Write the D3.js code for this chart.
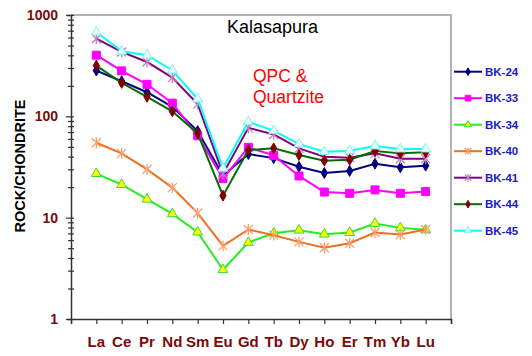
<!DOCTYPE html>
<html>
<head>
<meta charset="utf-8">
<script src="https://cdn.jsdelivr.net/npm/d3@7"></script>
<style>
  html, body { margin: 0; padding: 0; background: #fff; }
  svg { display: block; font-family: "Liberation Sans", Arial, sans-serif; }
</style>
</head>
<body>
<svg id="chart" width="532" height="356"></svg>
<script>
const elements = ["La","Ce","Pr","Nd","Sm","Eu","Gd","Tb","Dy","Ho","Er","Tm","Yb","Lu"];
const yTickLabels = ["1","10","100","1000"];
const seriesNames = ["BK-24","BK-33","BK-34","BK-40","BK-41","BK-44","BK-45"];

const bk24 = [283,222,173,124,71.5,26,42.4,38.7,31.8,27.6,28.9,34.1,31.4,32.6];
const bk33 = [401,281,207,135,64.3,24.3,49.4,41.2,25.8,17.9,17.4,18.8,17.4,18.1];
const bk34 = [27.2,21.2,15.2,10.9,7.19,3.06,5.69,7.03,7.52,6.87,7.13,8.75,7.93,7.58];
const bk40 = [54.9,43.1,30.0,19.8,11.1,5.27,7.64,6.72,5.77,5.04,5.60,7.13,6.82,7.64];
const bk41 = [584,432,344,241,132,27,77,66.3,48.3,40,39.1,43.1,38.2,38.2];
const bk44 = [317,214,156,112,67.8,16.5,46.5,48.3,41.5,36.5,37.3,45.4,43.1,44.1];
const bk45 = [679,438,401,285,148,30.7,88.3,72.1,53.2,44.8,45.8,50.9,47.5,47.5];

const seriesValues = [bk24, bk33, bk34, bk40, bk41, bk44, bk45];
const styles = [
  {line:"#000080", marker:"diamond", fill:"#000080", stroke:"#000080", size:34},
  {line:"#ff00ff", marker:"square", fill:"#ff00ff", stroke:"#ff00ff", size:64},
  {line:"#22ee22", marker:"triangle", fill:"#ffff00", stroke:"#33dd33", size:42},
  {line:"#f07020", marker:"asterisk", fill:"none", stroke:"#f8a070", size:4.5},
  {line:"#800080", marker:"asterisk", fill:"none", stroke:"#c080c0", size:4.5},
  {line:"#007000", marker:"diamond", fill:"#800000", stroke:"#800000", size:34},
  {line:"#00ffff", marker:"triangle", fill:"#e8ffff", stroke:"#80f0f0", size:42}
];

const svg = d3.select("#chart");
const L = 71, R = 451, T = 15, B = 319;

const x = d3.scaleLinear().domain([0, elements.length + 1]).range([L, R]);
const y = d3.scaleLog().domain([1, 1000]).range([B, T]);

// plot border (top and right)
svg.append("path")
  .attr("d", `M${L},${T}H${R}V${B}`)
  .attr("fill", "none").attr("stroke", "#999").attr("stroke-width", 1.5);

// Y axis with minor ticks
const yTickVals = [];
for (let d = 1; d < 1000; d *= 10) for (let k = 1; k < 10; k++) yTickVals.push(d * k);
yTickVals.push(1000);
const yAxis = d3.axisLeft(y).tickValues(yTickVals).tickSize(4).tickFormat("");
const gy = svg.append("g").attr("transform", `translate(${L},0)`).call(yAxis);
gy.select(".domain").attr("stroke", "#333").attr("stroke-width", 1.5);
gy.selectAll(".tick line").attr("stroke", "#333").attr("stroke-width", 1.2)
  .attr("x1", 3).attr("x2", d => (Math.log10(d) % 1 === 0 ? -5 : -3));

svg.append("g").selectAll("text").data(yTickLabels).join("text")
  .attr("x", 58).attr("y", d => y(+d)).attr("dy", "0.36em")
  .attr("text-anchor", "end").attr("font-weight", "bold").attr("font-size", 14)
  .attr("fill", "#7a0a0a").text(d => d);

// X axis
const xAxis = d3.axisBottom(x).tickValues(d3.range(0, elements.length + 2)).tickSize(5).tickFormat("");
const gx = svg.append("g").attr("transform", `translate(0,${B})`).call(xAxis);
gx.select(".domain").attr("stroke", "#333").attr("stroke-width", 1.5);
gx.selectAll(".tick line").attr("stroke", "#333").attr("stroke-width", 1.2);

svg.append("g").selectAll("text").data(elements).join("text")
  .attr("x", (d, i) => x(i + 1)).attr("y", 347)
  .attr("text-anchor", "middle").attr("font-weight", "bold").attr("font-size", 15)
  .attr("fill", "#7a0a0a").text(d => d);

// Y label
svg.append("text")
  .attr("transform", "translate(25,166) rotate(-90)")
  .attr("text-anchor", "middle").attr("font-weight", "bold").attr("font-size", 14.5)
  .attr("fill", "#000").text("ROCK/CHONDRITE");

// Titles
svg.append("text").attr("x", 227).attr("y", 33).attr("font-size", 18).attr("fill", "#000").text("Kalasapura");
svg.append("text").attr("x", 253).attr("y", 82).attr("font-size", 17.5).attr("fill", "#ff0000").text("QPC &");
svg.append("text").attr("x", 253).attr("y", 103).attr("font-size", 17.5).attr("fill", "#ff0000").text("Quartzite");

function drawMarker(g, st, scale) {
  if (st.marker === "asterisk") {
    const s = st.size * Math.sqrt(scale);
    g.append("path")
      .attr("d", `M${-s},${-s}L${s},${s}M${-s},${s}L${s},${-s}M0,${-s*1.2}L0,${s*1.2}`)
      .attr("stroke", st.stroke).attr("stroke-width", 1.3).attr("fill", "none");
  } else {
    const type = st.marker === "diamond" ? d3.symbolDiamond
      : st.marker === "square" ? d3.symbolSquare : d3.symbolTriangle;
    g.append("path").attr("d", d3.symbol().type(type).size(st.size * scale)())
      .attr("fill", st.fill).attr("stroke", st.stroke).attr("stroke-width", 1);
  }
}

const line = d3.line().x((d, i) => x(i + 1)).y(d => y(d));

seriesValues.forEach((vals, si) => {
  const st = styles[si];
  const g = svg.append("g");
  g.append("path").datum(vals).attr("d", line)
    .attr("fill", "none").attr("stroke", st.line).attr("stroke-width", 2);
  vals.forEach((v, i) => {
    const mg = g.append("g").attr("transform", `translate(${x(i + 1)},${y(v)})`);
    drawMarker(mg, st, 1);
  });
});

// Legend
const legendY0 = 71.7, legendStep = 26.5;
seriesNames.forEach((name, si) => {
  const st = styles[si];
  const ly = legendY0 + si * legendStep;
  const g = svg.append("g");
  g.append("line").attr("x1", 454).attr("x2", 482).attr("y1", ly).attr("y2", ly)
    .attr("stroke", st.line).attr("stroke-width", 2);
  const mg = g.append("g").attr("transform", `translate(468,${ly})`);
  drawMarker(mg, st, 0.5);
  g.append("text").attr("x", 485).attr("y", ly).attr("dy", "0.36em")
    .attr("font-size", 11.5).attr("font-weight", "bold").attr("fill", "#1a1acc").text(name);
});
</script>
</body>
</html>
